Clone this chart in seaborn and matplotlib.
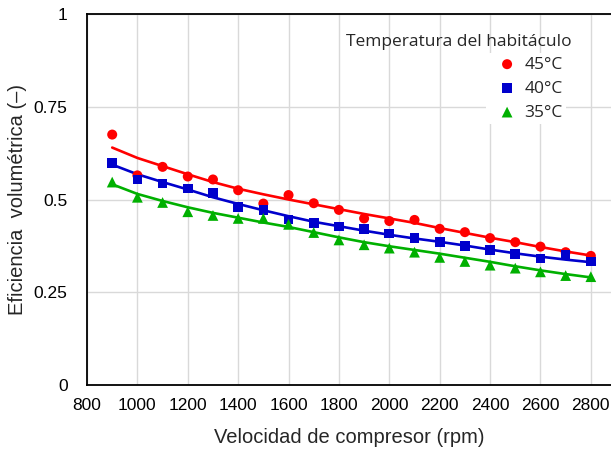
import numpy as np
import pandas as pd
import seaborn as sns
from matplotlib import pyplot as plt

# compressor speed (rpm)
rpm = [900, 1000, 1100, 1200, 1300, 1400, 1500, 1600, 1700, 1800,
       1900, 2000, 2100, 2200, 2300, 2400, 2500, 2600, 2700, 2800]

# measured volumetric efficiency per cabin temperature
ef_45 = [0.675, 0.565, 0.588, 0.562, 0.554, 0.525, 0.489, 0.512, 0.490, 0.472,
         0.449, 0.442, 0.445, 0.421, 0.412, 0.396, 0.385, 0.373, 0.358, 0.348]
ef_40 = [0.599, 0.554, 0.543, 0.530, 0.517, 0.479, 0.472, 0.446, 0.436, 0.427,
         0.420, 0.408, 0.396, 0.385, 0.375, 0.364, 0.353, 0.341, 0.352, 0.333]
ef_35 = [0.547, 0.506, 0.492, 0.467, 0.457, 0.449, 0.449, 0.433, 0.411, 0.391,
         0.378, 0.369, 0.358, 0.344, 0.333, 0.323, 0.315, 0.305, 0.295, 0.292]

# trend curves (at the same speeds)
fit_45 = [0.640, 0.612, 0.590, 0.568, 0.547, 0.529, 0.514, 0.500, 0.487, 0.474,
          0.461, 0.449, 0.437, 0.423, 0.410, 0.397, 0.385, 0.372, 0.360, 0.349]
fit_40 = [0.594, 0.568, 0.547, 0.527, 0.506, 0.488, 0.471, 0.455, 0.440, 0.428,
          0.416, 0.405, 0.395, 0.386, 0.376, 0.365, 0.355, 0.346, 0.338, 0.331]
fit_35 = [0.541, 0.515, 0.496, 0.479, 0.464, 0.451, 0.438, 0.426, 0.412, 0.398,
          0.385, 0.374, 0.364, 0.354, 0.343, 0.332, 0.320, 0.309, 0.299, 0.290]

labels = ["45°C", "40°C", "35°C"]
colors = ["#ff0000", "#0000cc", "#00b000"]
markers = ["o", "s", "^"]
sizes = [52, 48, 60]

xticks = [800, 1000, 1200, 1400, 1600, 1800, 2000, 2200, 2400, 2600, 2800]
yticks = [0, 0.25, 0.5, 0.75, 1]
ytick_labels = ["0", "0.25", "0.5", "0.75", "1"]

sns.set_style("white")
plt.rcParams["font.family"] = ["Liberation Sans", "DejaVu Sans"]

fig = plt.figure(figsize=(6.11, 4.5), dpi=100)
ax = fig.add_axes([0.1424, 0.1444, 0.8576, 0.8245])

for ef, fit, lab, col, mk, sz in zip([ef_45, ef_40, ef_35], [fit_45, fit_40, fit_35],
                                      labels, colors, markers, sizes):
    sns.lineplot(x=rpm, y=fit, color=col, lw=1.9, ax=ax, zorder=3)
    sns.scatterplot(x=rpm, y=ef, color=col, marker=mk, s=sz, edgecolor="none",
                    label=lab, ax=ax, zorder=4)

ax.set_xlim(800, 2880)
ax.set_ylim(0, 1)
ax.set_xticks(xticks)
ax.set_yticks(yticks)
ax.set_yticklabels(ytick_labels)
ax.grid(True, color="#d9d9d9", lw=1)
ax.tick_params(length=0, labelsize=12.5, colors="#000000")
ax.tick_params(axis="x", pad=9)
ax.tick_params(axis="y", pad=14)
for side in ["left", "bottom", "top"]:
    ax.spines[side].set_color("black")
    ax.spines[side].set_linewidth(1.3)
ax.spines["right"].set_visible(False)

ax.set_xlabel("Velocidad de compresor (rpm)", fontsize=14.5, labelpad=11)
ax.set_ylabel("Eficiencia  volumétrica (–)", fontsize=14.5, labelpad=5)

ax.text(0.925, 0.924, "Temperatura del habitáculo", transform=ax.transAxes,
        ha="right", va="center", fontsize=12.5, family=["Open Sans", "DejaVu Sans"])
handles, _ = ax.get_legend_handles_labels()
leg = ax.legend(handles=handles, labels=labels, loc="upper right",
                bbox_to_anchor=(0.931, 0.918), frameon=True, framealpha=1,
                edgecolor="white", handletextpad=0.0, labelspacing=0.45,
                borderpad=0.2, prop={"family": ["Open Sans", "DejaVu Sans"], "size": 12.5})
leg.get_frame().set_linewidth(0)

fig.savefig("out.png", dpi=100)
